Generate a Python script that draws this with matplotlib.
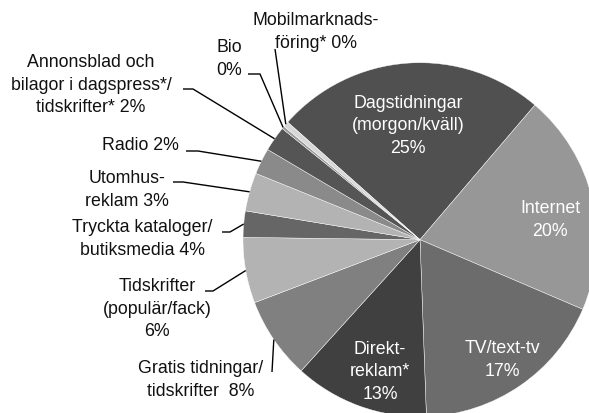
import matplotlib.pyplot as plt
import numpy as np

plt.rcParams['font.family'] = ['Liberation Sans', 'DejaVu Sans']

# -------- Data (share of ad spend, clockwise from Dagstidningar) --------
names = ['Dagstidningar', 'Internet', 'TV/text-tv', 'Direktreklam', 'Gratis tidningar',
         'Tidskrifter', 'Tryckta kataloger', 'Utomhusreklam', 'Radio', 'Annonsblad',
         'Bio', 'Mobilmarknadsföring']
shares = [24.7, 20.2, 18.0, 12.3, 7.5, 6.0, 2.4, 3.5, 2.4, 2.3, 0.25, 0.5]
labels = ['Dagstidningar\n(morgon/kväll)\n25%', 'Internet\n20%', 'TV/text-tv\n17%',
          'Direkt-\nreklam*\n13%', 'Gratis tidningar/\ntidskrifter  8%',
          'Tidskrifter\n(populär/fack)\n6%', 'Tryckta kataloger/\nbutiksmedia 4%',
          'Utomhus-\nreklam 3%', 'Radio 2%',
          'Annonsblad och\nbilagor i dagspress*/\ntidskrifter* 2%', 'Bio\n0%',
          'Mobilmarknads-\nföring* 0%']
colors = ['#505050', '#979797', '#6c6c6c', '#404040', '#808080', '#b3b3b3',
          '#666666', '#b3b3b3', '#8a8a8a', '#555555', '#9a9a9a', '#d8d8d8']

# ------ Layout in pixel coordinates (y measured from top) --------
W, H = 589, 414
cx, cy, R = 420, 240.7, 177
start = 311.6  # compass angle of first wedge edge

inside = {0: (408, 126), 1: (550, 220), 2: (502, 360), 3: (380, 372)}
outside = {4: (201, 380), 5: (157, 309), 6: (142, 239), 7: (127, 190), 8: (140, 145),
           9: (91, 85), 10: (229, 59), 11: (316, 32)}
leaders = {4: [(272, 373)], 5: [(205, 292), (213, 292)], 6: [(222, 233), (230, 233)],
           7: [(173, 183), (183, 183)], 8: [(186, 152), (198, 152)],
           9: [(183, 90), (193, 90)], 10: [(248, 75), (260, 75)], 11: [(275, 50)]}

fig = plt.figure(figsize=(W / 100, H / 100), dpi=100)
ax = fig.add_axes([0, 0, 1, 1])

ax.pie(shares, colors=colors, startangle=90 - start, counterclock=False,
       center=(cx, H - cy), radius=R, frame=True,
       wedgeprops=dict(edgecolor='white', linewidth=0.3))
ax.set_xlim(0, W)
ax.set_ylim(0, H)
ax.set_aspect('equal')
ax.axis('off')

# ---- labels ----
total = float(sum(shares))
edges = start + np.cumsum([0] + shares) / total * 360
for i, lab in enumerate(labels):
    if i in inside:
        x, y = inside[i]
        ax.text(x, H - y, lab, color='white', fontsize=12.8, ha='center', va='center',
                multialignment='center', linespacing=1.42)
    else:
        x, y = outside[i]
        ax.text(x, H - y, lab, color='#111111', fontsize=12.8, ha='center', va='center',
                multialignment='center', linespacing=1.42)
        mid = np.radians((edges[i] + edges[i + 1]) / 2)
        px = cx + R * np.sin(mid)
        py = cy - R * np.cos(mid)
        pts = leaders[i] + [(px, py)]
        ax.plot([p[0] for p in pts], [H - p[1] for p in pts], color='black', lw=1.0,
                solid_capstyle='butt')

fig.savefig('out.png', dpi=100)
